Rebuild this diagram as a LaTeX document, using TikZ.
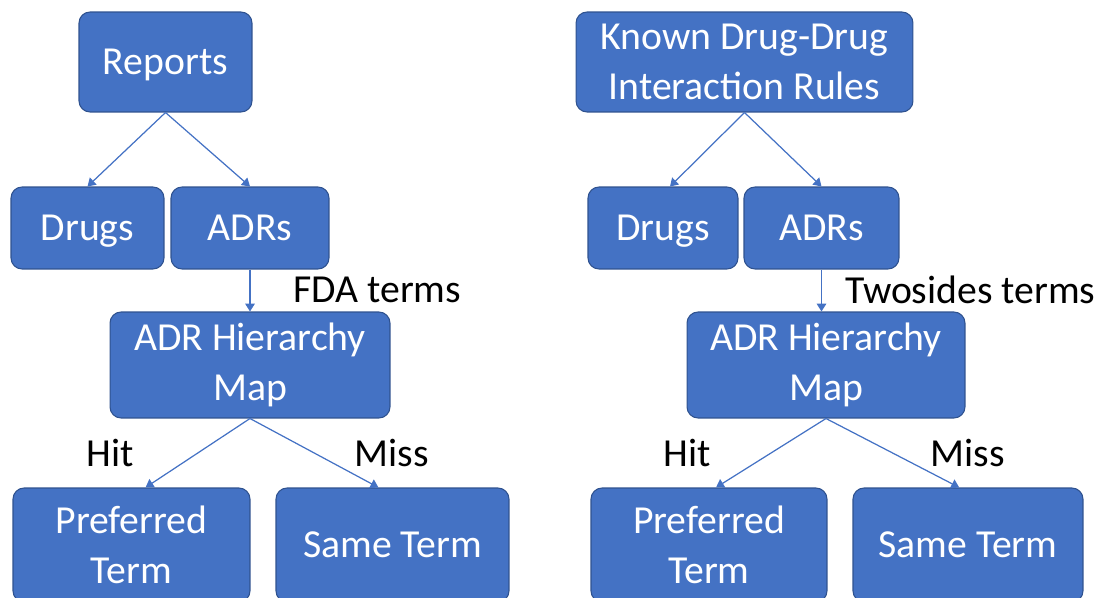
\documentclass[tikz,border=0pt]{standalone}
\usepackage{fontspec}
\setmainfont{Carlito}
\usetikzlibrary{arrows.meta}
\definecolor{boxblue}{HTML}{4472C4}
\definecolor{boxedge}{HTML}{2F528F}
\begin{document}
\begin{tikzpicture}[
    x=0.02cm, y=-0.02cm,
  box/.style={rectangle, rounded corners=0.22cm, draw=boxedge, line width=0.6pt, fill=boxblue, text=white, align=center, inner sep=0pt, font=\fontsize{22.6}{28.4}\selectfont},
  lbl/.style={text=black, inner sep=0pt, font=\fontsize{22.6}{28.4}\selectfont},
  arr/.style={-{Triangle[length=4.5pt,width=5.5pt]}, draw=boxblue, line width=0.7pt}
]
\useasboundingbox (0,0) rectangle (1107,598);
\clip (0,0) rectangle (1107,598);

% FDA side
\node[box, text depth=0pt, minimum width=3.46cm, minimum height=2cm] (rep) at (165.5,62) {Reports};
\node[box, text depth=0pt, minimum width=3.06cm, minimum height=1.64cm] (drugsL) at (87.5,228) {Drugs};
\node[box, minimum width=3.16cm, minimum height=1.64cm] (adrL) at (250,228) {ADRs};
\node[box, minimum width=5.6cm, minimum height=2.12cm] (mapL) at (250,365) {ADR Hierarchy\\Map};
\node[box, minimum width=4.74cm, minimum height=2.28cm] (prefL) at (131.5,545) {Preferred\\Term};
\node[box, minimum width=4.66cm, minimum height=2.28cm] (sameL) at (392.5,545) {Same Term};

% Twosides side
\node[box, minimum width=6.74cm, minimum height=2cm] (ddi) at (744.5,62) {Known Drug-Drug\\Interaction Rules};
\node[box, text depth=0pt, minimum width=3cm, minimum height=1.64cm] (drugsR) at (663,228) {Drugs};
\node[box, minimum width=3.1cm, minimum height=1.64cm] (adrR) at (821.5,228) {ADRs};
\node[box, minimum width=5.56cm, minimum height=2.12cm] (mapR) at (826,365) {ADR Hierarchy\\Map};
\node[box, minimum width=4.72cm, minimum height=2.28cm] (prefR) at (709,545) {Preferred\\Term};
\node[box, minimum width=4.6cm, minimum height=2.28cm] (sameR) at (968,545) {Same Term};

% Arrows
\draw[arr] (rep.south) -- (drugsL.north);
\draw[arr] (rep.south) -- (adrL.north);
\draw[arr] (adrL.south) -- (adrL.south |- mapL.north);
\draw[arr] (mapL.south) -- ([xshift=8]prefL.north);
\draw[arr] (mapL.south) -- ([xshift=-8]sameL.north);

\draw[arr] (ddi.south) -- ([xshift=4]drugsR.north);
\draw[arr] (ddi.south) -- (adrR.north);
\draw[arr] (adrR.south) -- (adrR.south |- mapR.north);
\draw[arr] (mapR.south) -- ([xshift=4]prefR.north);
\draw[arr] (mapR.south) -- ([xshift=-5]sameR.north);

% Labels
\node[lbl, anchor=west] (fdaterms) at (293,290) {FDA terms};
\node[lbl] (hitL) at (110,453) {Hit};
\node[lbl] (missL) at (392,453) {Miss};
\node[lbl, anchor=west] (twoterms) at (845,290) {Twosides terms};
\node[lbl] (hitR) at (687.5,453) {Hit};
\node[lbl] (missR) at (967.5,453) {Miss};

\end{tikzpicture}
\end{document}
